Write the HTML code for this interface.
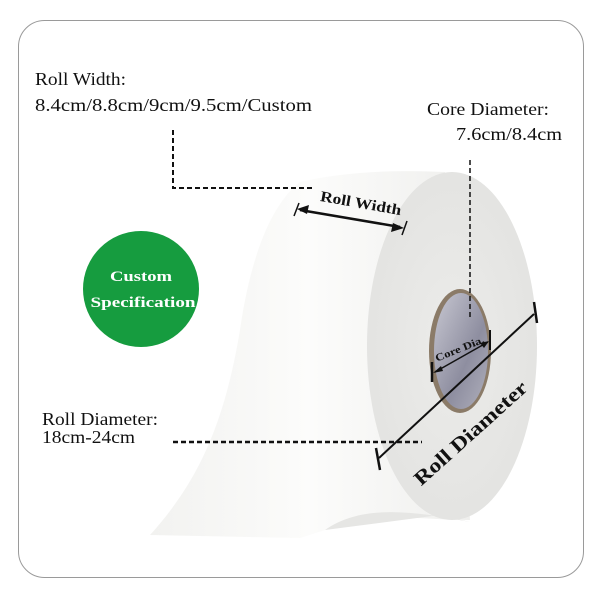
<!DOCTYPE html>
<html><head><meta charset="utf-8"><style>
body{margin:0;background:#fff;width:600px;height:600px;overflow:hidden}
</style></head><body>
<svg width="600" height="600" viewBox="0 0 600 600" xmlns="http://www.w3.org/2000/svg" font-family="Liberation Serif, serif">
<defs>
<linearGradient id="body" x1="0" y1="0" x2="1" y2="0">
<stop offset="0" stop-color="#f2f2f0"/><stop offset="0.5" stop-color="#fcfcfb"/><stop offset="1" stop-color="#efefed"/>
</linearGradient>
<radialGradient id="face" cx="0.5" cy="0.5" r="0.6">
<stop offset="0" stop-color="#ececea"/><stop offset="1" stop-color="#e2e2e0"/>
</radialGradient>
<linearGradient id="core" x1="0" y1="0" x2="1" y2="1">
<stop offset="0" stop-color="#c8c8d2"/><stop offset="0.6" stop-color="#8e8ea0"/><stop offset="1" stop-color="#b0b0bc"/>
</linearGradient>
</defs>
<rect x="18.5" y="20.5" width="565" height="557" rx="26" fill="#fff" stroke="#9a9a9a"/>
<path d="M300,182 Q360,168 445,172 L470,520 C420,520 370,510 325,530 L300,538 L150,535 C200,480 225,420 240,330 C250,260 270,205 300,182 Z" fill="url(#body)"/>
<path d="M325,530 C360,505 410,510 470,522 L440,515 Z" fill="#e6e6e4"/>
<ellipse cx="452" cy="346" rx="85" ry="174" fill="url(#face)"/>
<ellipse cx="460" cy="351" rx="31" ry="62" fill="#8b7b68"/>
<ellipse cx="461" cy="351" rx="27" ry="58" fill="url(#core)"/>
<circle cx="141" cy="289" r="58" fill="#169c3f"/>
<text x="141" y="281" text-anchor="middle" font-size="15" font-weight="bold" fill="#fff" textLength="62" lengthAdjust="spacingAndGlyphs">Custom</text>
<text x="143" y="307" text-anchor="middle" font-size="15" font-weight="bold" fill="#fff" textLength="105" lengthAdjust="spacingAndGlyphs">Specification</text>
<g font-size="17.5" fill="#111" lengthAdjust="spacingAndGlyphs">
<text x="35" y="85" textLength="91" lengthAdjust="spacingAndGlyphs">Roll Width:</text>
<text x="35" y="111" textLength="277" lengthAdjust="spacingAndGlyphs">8.4cm/8.8cm/9cm/9.5cm/Custom</text>
<text x="427" y="115" textLength="122" lengthAdjust="spacingAndGlyphs">Core Diameter:</text>
<text x="456" y="140" textLength="106" lengthAdjust="spacingAndGlyphs">7.6cm/8.4cm</text>
<text x="42" y="425" textLength="116" lengthAdjust="spacingAndGlyphs">Roll Diameter:</text>
<text x="42" y="443" textLength="93" lengthAdjust="spacingAndGlyphs">18cm-24cm</text>
</g>
<g stroke="#111" stroke-dasharray="5,3" fill="none">
<path d="M173,130 V188 H313" stroke-width="2"/>
<path d="M173,442 H422" stroke-width="2.5"/>
<path d="M470,160 V320" stroke-width="1.5"/>
</g>
<g stroke="#111" stroke-width="2.5" fill="#111">
<line x1="300" y1="210" x2="400" y2="227"/>
<line x1="294" y1="216" x2="299" y2="203" stroke-width="1.5"/>
<line x1="402" y1="235" x2="407" y2="221" stroke-width="1.5"/>
<path d="M297,209 L309,205 L307,214 Z" stroke="none"/>
<path d="M404,228 L391,232 L393,223 Z" stroke="none"/>
</g>
<text x="360" y="208" transform="rotate(10 360 208)" text-anchor="middle" font-size="15" font-weight="bold" fill="#111" textLength="82" lengthAdjust="spacingAndGlyphs">Roll Width</text>
<g stroke="#111" stroke-width="1.5" fill="#111">
<line x1="435" y1="372" x2="488" y2="342"/>
<line x1="432" y1="362" x2="432" y2="382" stroke-width="2.5"/>
<line x1="490" y1="330" x2="490" y2="350" stroke-width="2"/>
<path d="M433,373 L441,366 L443,371 Z" stroke="none"/>
<path d="M489,341 L480,343 L484,348 Z" stroke="none"/>
</g>
<text x="461" y="352" transform="rotate(-22 461 352)" text-anchor="middle" font-size="10.5" font-weight="bold" fill="#111" textLength="52" lengthAdjust="spacingAndGlyphs">Core Dia.</text>
<g stroke="#111" fill="none">
<line x1="379" y1="458" x2="534" y2="314" stroke-width="2"/>
<line x1="376" y1="448" x2="380" y2="470" stroke-width="2.5"/>
<line x1="534" y1="302" x2="537" y2="323" stroke-width="2.5"/>
</g>
<text x="475" y="438" transform="rotate(-42 475 438)" text-anchor="middle" font-size="20" font-weight="bold" fill="#111" textLength="145" lengthAdjust="spacingAndGlyphs">Roll Diameter</text>
</svg>
</body></html>
